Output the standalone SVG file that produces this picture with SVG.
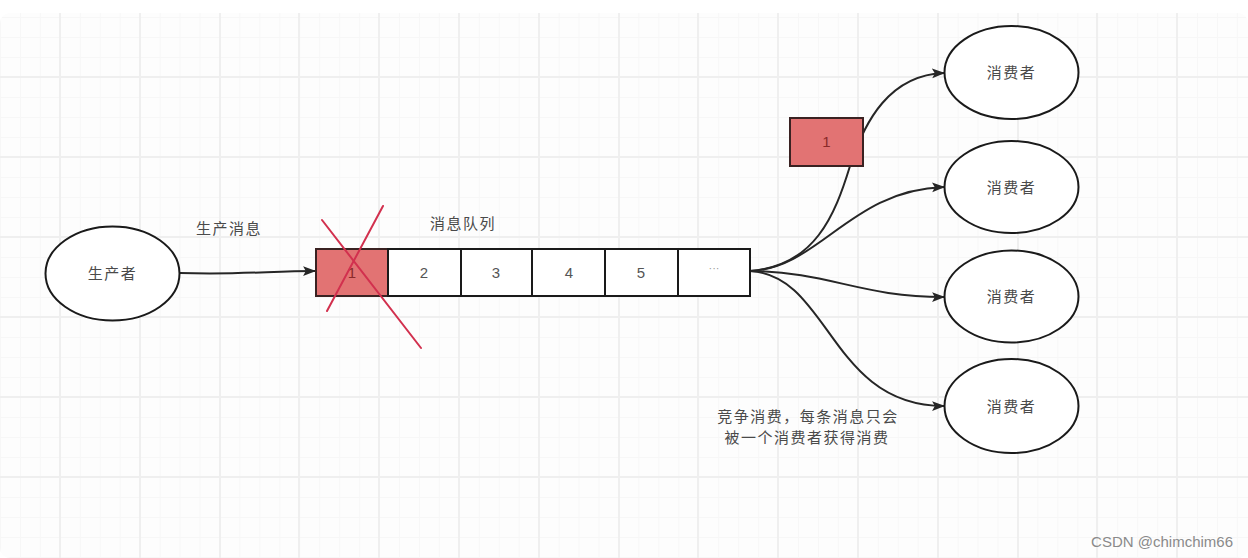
<svg xmlns="http://www.w3.org/2000/svg" width="1248" height="558" viewBox="0 0 1248 558">
<defs>
<style>
.major{stroke:#efefef;stroke-width:2}
.minor{stroke:#f7f7f7;stroke-width:1}
.node{fill:#fff;stroke:#1a1a1a;stroke-width:2}
.red{fill:#e27373;stroke:#3a2222;stroke-width:2}
.lbl{font-family:"Liberation Sans","Noto Sans CJK SC",sans-serif;font-size:15px;fill:#4a4a4a;text-anchor:middle;letter-spacing:1.5px}
.num{font-family:"Liberation Sans",sans-serif;font-size:15px;fill:#555;text-anchor:middle}
.conn{fill:none;stroke:#262626;stroke-width:2}
.cross{stroke:#d2304e;stroke-width:2;stroke-linecap:round}
</style>
<marker id="arr" viewBox="0 0 12 10" refX="11" refY="5" markerWidth="13" markerHeight="11" orient="auto" markerUnits="userSpaceOnUse">
<path d="M0,0.5 L12,5 L0,9.5 L2.5,5 Z" fill="#262626"/>
</marker>
<pattern id="minorGrid" x="0" y="17" width="19.95" height="20" patternUnits="userSpaceOnUse">
<path d="M0.5,0 V20 M0,0.5 H20" class="minor"/>
</pattern>
</defs>
<rect width="1248" height="558" fill="#ffffff"/>
<rect x="0" y="13" width="1248" height="545" rx="10" fill="#fdfdfd"/>
<rect x="0" y="13" width="1248" height="545" rx="10" fill="url(#minorGrid)"/>
<g id="grid">
<path class="major" d="M60,13V558 M140,13V558 M220,13V558 M299,13V558 M379,13V558 M459,13V558 M539,13V558 M619,13V558 M698,13V558 M778,13V558 M858,13V558 M938,13V558 M1018,13V558 M1097,13V558 M1177,13V558 M0,77H1248 M0,157H1248 M0,237H1248 M0,317H1248 M0,397H1248 M0,477H1248"/>
</g>
<g id="connectors">
<path class="conn" d="M180,273 C240,275 270,271 315,271" marker-end="url(#arr)"/>
<path class="conn" d="M750,271 C815,266 835,215 850,166 C865,120 890,75 944,73" marker-end="url(#arr)"/>
<path class="conn" d="M750,271 C820,268 850,190 944,187" marker-end="url(#arr)"/>
<path class="conn" d="M750,271 C830,272 860,297 944,297" marker-end="url(#arr)"/>
<path class="conn" d="M750,271 C830,275 830,406 944,406" marker-end="url(#arr)"/>
</g>
<g id="producer">
<ellipse class="node" cx="112.5" cy="273.5" rx="67" ry="47"/>
<text class="lbl" x="112.5" y="279">生产者</text>
</g>
<g id="label-produce">
<text class="lbl" x="229" y="234">生产消息</text>
</g>
<g id="queue">
<text class="lbl" x="463" y="229">消息队列</text>
<rect class="red" x="316" y="249" width="72" height="47"/>
<rect class="node" x="388" y="249" width="73" height="47"/>
<rect class="node" x="461" y="249" width="71" height="47"/>
<rect class="node" x="532" y="249" width="73" height="47"/>
<rect class="node" x="605" y="249" width="73" height="47"/>
<rect class="node" x="678" y="249" width="72" height="47"/>
<text class="num" x="352" y="278" style="fill:#8a2a2a">1</text>
<text class="num" x="424" y="278">2</text>
<text class="num" x="496" y="278">3</text>
<text class="num" x="569" y="278">4</text>
<text class="num" x="641" y="278">5</text>
<text class="num" x="714" y="272" style="font-size:11px;fill:#999">···</text>
</g>
<g id="cross">
<line class="cross" x1="322" y1="220" x2="421" y2="348"/>
<line class="cross" x1="383" y1="206" x2="327" y2="311"/>
</g>
<g id="msg1">
<rect class="red" x="790" y="118" width="73" height="48"/>
<text class="num" x="826.5" y="147" style="fill:#8a2a2a">1</text>
</g>
<g id="consumer1">
<ellipse class="node" cx="1011.5" cy="72.5" rx="67" ry="46.5"/>
<text class="lbl" x="1011.5" y="78">消费者</text>
</g>
<g id="consumer2">
<ellipse class="node" cx="1011.5" cy="187" rx="67" ry="46"/>
<text class="lbl" x="1011.5" y="193">消费者</text>
</g>
<g id="consumer3">
<ellipse class="node" cx="1011.5" cy="296.5" rx="67" ry="46"/>
<text class="lbl" x="1011.5" y="302">消费者</text>
</g>
<g id="consumer4">
<ellipse class="node" cx="1011.5" cy="406" rx="67" ry="47"/>
<text class="lbl" x="1011.5" y="412">消费者</text>
</g>
<g id="note">
<text class="lbl" x="808" y="422">竞争消费，每条消息只会</text>
<text class="lbl" x="807" y="443">被一个消费者获得消费</text>
</g>
<text x="1233" y="547" text-anchor="end" style="font-family:'Liberation Sans',sans-serif;font-size:15px;fill:#8a8a8a">CSDN @chimchim66</text>
</svg>
